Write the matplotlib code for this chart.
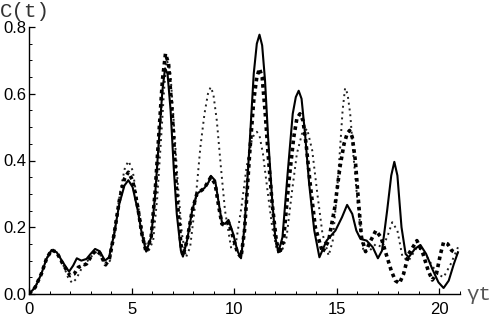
import matplotlib
matplotlib.use("Agg")
import matplotlib.pyplot as plt
from matplotlib.ticker import MultipleLocator

# solid curve
t_solid = [0.0, 0.3, 0.6, 0.85, 1.1, 1.35, 1.65, 1.95, 2.15, 2.33, 2.55, 2.8, 3.0, 3.22,
           3.45, 3.7, 3.9, 4.15, 4.4, 4.65, 4.84, 5.05, 5.3, 5.5, 5.71, 5.95, 6.15,
           6.35, 6.5, 6.63, 6.75, 6.9, 7.05, 7.2, 7.4, 7.5, 7.7, 7.95, 8.18, 8.54,
           8.75, 8.86, 9.07, 9.25, 9.4, 9.55, 9.72, 9.95, 10.15, 10.33, 10.5,
           10.75, 10.95, 11.1, 11.23, 11.36, 11.5, 11.65, 11.85, 12.0, 12.15,
           12.35, 12.6, 12.85, 13.0, 13.14, 13.28, 13.45, 13.65, 13.9, 14.15,
           14.5, 14.93, 15.25, 15.5, 15.75, 15.95, 16.15, 16.45, 16.75, 17.0,
           17.2, 17.45, 17.65, 17.8, 17.95, 18.15, 18.35, 18.5, 18.8, 19.07,
           19.35, 19.65, 19.95, 20.2, 20.45, 20.7, 20.9]
c_solid = [0.0, 0.02, 0.06, 0.105, 0.132, 0.125, 0.095, 0.067, 0.085, 0.107, 0.1, 0.105,
           0.12, 0.135, 0.128, 0.1, 0.11, 0.18, 0.27, 0.325, 0.341, 0.32, 0.25, 0.18,
           0.127, 0.17, 0.3, 0.48, 0.61, 0.676, 0.66, 0.55, 0.38, 0.24, 0.13,
           0.112, 0.16, 0.25, 0.3, 0.317, 0.335, 0.354, 0.34, 0.27, 0.215, 0.21,
           0.222, 0.18, 0.13, 0.107, 0.2, 0.45, 0.66, 0.75, 0.777, 0.745, 0.64,
           0.47, 0.28, 0.17, 0.125, 0.17, 0.36, 0.54, 0.59, 0.609, 0.585, 0.48,
           0.33, 0.19, 0.11, 0.16, 0.19, 0.23, 0.267, 0.24, 0.19, 0.165, 0.16,
           0.14, 0.107, 0.13, 0.25, 0.355, 0.396, 0.355, 0.2, 0.12, 0.11, 0.135,
           0.147, 0.12, 0.075, 0.035, 0.018, 0.04, 0.09, 0.125]

# dashed curve
t_dash = [0.0, 0.3, 0.6, 0.85, 1.1, 1.35, 1.65, 2.0, 2.2, 2.4, 2.6, 2.8, 3.0, 3.22,
          3.45, 3.72, 3.9, 4.15, 4.4, 4.65, 4.84, 5.05, 5.3, 5.5, 5.71, 5.95, 6.15,
          6.35, 6.5, 6.65, 6.8, 7.0, 7.2, 7.4, 7.5, 7.7, 7.95, 8.18, 8.54, 8.86,
          9.07, 9.25, 9.4, 9.55, 9.72, 9.95, 10.15, 10.33, 10.5, 10.75, 10.95,
          11.1, 11.23, 11.36, 11.5, 11.65, 11.85, 12.05, 12.2, 12.4, 12.65, 12.9,
          13.05, 13.2, 13.35, 13.5, 13.7, 13.95, 14.3, 14.6, 14.9, 15.15, 15.35,
          15.5, 15.62, 15.75, 15.9, 16.05, 16.2, 16.4, 16.65, 16.9, 17.15, 17.4,
          17.65, 17.85, 18.05, 18.25, 18.5, 18.9, 19.2, 19.45, 19.65, 19.85,
          20.05, 20.2, 20.4, 20.6, 20.9]
c_dash = [0.0, 0.02, 0.06, 0.105, 0.132, 0.125, 0.09, 0.055, 0.06, 0.08, 0.085, 0.09,
          0.11, 0.13, 0.122, 0.088, 0.1, 0.18, 0.28, 0.345, 0.365, 0.34, 0.26, 0.18,
          0.125, 0.17, 0.31, 0.5, 0.64, 0.72, 0.69, 0.52, 0.3, 0.15, 0.115, 0.16,
          0.25, 0.3, 0.317, 0.35, 0.33, 0.26, 0.21, 0.205, 0.215, 0.17, 0.125,
          0.11, 0.19, 0.42, 0.58, 0.65, 0.675, 0.65, 0.55, 0.42, 0.27, 0.16, 0.12,
          0.16, 0.33, 0.47, 0.525, 0.54, 0.52, 0.45, 0.33, 0.2, 0.125, 0.16, 0.26,
          0.38, 0.45, 0.48, 0.49, 0.47, 0.4, 0.28, 0.17, 0.127, 0.16, 0.19, 0.17,
          0.12, 0.07, 0.04, 0.032, 0.06, 0.12, 0.16, 0.12, 0.07, 0.042, 0.06,
          0.12, 0.155, 0.15, 0.13, 0.12]

# dotted curve
t_dot = [0.0, 0.3, 0.6, 0.85, 1.1, 1.35, 1.65, 1.9, 2.1, 2.3, 2.55, 2.8, 3.0, 3.25,
         3.5, 3.75, 3.95, 4.2, 4.45, 4.68, 4.85, 5.05, 5.3, 5.55, 5.8, 6.05, 6.25,
         6.45, 6.6, 6.72, 6.88, 7.05, 7.25, 7.45, 7.65, 7.85, 8.1, 8.35, 8.55,
         8.72, 8.85, 8.98, 9.15, 9.35, 9.55, 9.85, 10.1, 10.35, 10.6, 10.85,
         10.98, 11.1, 11.23, 11.4, 11.6, 11.85, 12.05, 12.3, 12.55, 12.8, 13.05,
         13.3, 13.55, 13.8, 14.05, 14.3, 14.6, 14.8, 15.0, 15.15, 15.28, 15.4,
         15.52, 15.65, 15.8, 16.0, 16.3, 16.6, 16.9, 17.2, 17.45, 17.7, 17.95,
         18.2, 18.5, 18.9, 19.2, 19.5, 19.9, 20.2, 20.55, 20.9]
c_dot = [0.0, 0.02, 0.06, 0.105, 0.132, 0.125, 0.09, 0.05, 0.033, 0.045, 0.075, 0.095,
         0.11, 0.125, 0.115, 0.085, 0.1, 0.2, 0.31, 0.38, 0.398, 0.37, 0.27, 0.18,
         0.125, 0.16, 0.29, 0.48, 0.63, 0.70, 0.67, 0.52, 0.33, 0.18, 0.11, 0.14,
         0.27, 0.44, 0.54, 0.6, 0.62, 0.6, 0.52, 0.38, 0.25, 0.137, 0.16, 0.26,
         0.38, 0.46, 0.48, 0.486, 0.475, 0.42, 0.32, 0.2, 0.14, 0.125, 0.17, 0.3,
         0.42, 0.48, 0.495, 0.43, 0.3, 0.18, 0.115, 0.16, 0.3, 0.43, 0.55,
         0.617, 0.6, 0.54, 0.42, 0.28, 0.125, 0.13, 0.15, 0.14, 0.17, 0.215,
         0.19, 0.11, 0.1, 0.14, 0.13, 0.1, 0.06, 0.05, 0.09, 0.14]

x_ticks = [0, 5, 10, 15, 20]
y_ticks = [0.0, 0.2, 0.4, 0.6, 0.8]

fig = plt.figure(figsize=(4.97, 3.19), dpi=100)
ax = fig.add_axes([29 / 497, 25 / 319, 431 / 497, 267 / 319])

ax.plot(t_dot, c_dot, color='#222222', lw=1.4, linestyle=(0, (1, 2)), zorder=2)
ax.plot(t_dash, c_dash, color='black', lw=2.6, linestyle=(0, (1.0, 1.0)), zorder=3)
ax.plot(t_solid, c_solid, color='black', lw=1.5, zorder=4)

ax.set_xlim(0, 21)
ax.set_ylim(0, 0.8)
for s in ['top', 'right']:
    ax.spines[s].set_visible(False)
for s in ['left', 'bottom']:
    ax.spines[s].set_linewidth(1.0)

ax.set_xticks(x_ticks)
ax.set_yticks(y_ticks)
ax.set_xticklabels([str(v) for v in x_ticks])
ax.set_yticklabels(['%.1f' % v for v in y_ticks])
ax.xaxis.set_minor_locator(MultipleLocator(1))
ax.yaxis.set_minor_locator(MultipleLocator(0.05))
ax.tick_params(which='major', direction='in', length=4.5, width=0.9, labelsize=12)
ax.tick_params(which='minor', direction='in', length=2.5, width=0.7)
ax.tick_params(axis='x', pad=6)
ax.tick_params(axis='y', pad=2)
for lab in ax.get_xticklabels() + ax.get_yticklabels():
    lab.set_family('Liberation Sans')

fig.text(0.0, 1 - 17 / 319, 'C(t)', family='Liberation Mono', fontsize=15,
         color='#333333', ha='left', va='baseline')
fig.text(466 / 497, 1 - 300 / 319, 'γt', family='Liberation Mono', fontsize=15,
         color='#555555', ha='left', va='baseline')

fig.savefig('out.png', dpi=100)
